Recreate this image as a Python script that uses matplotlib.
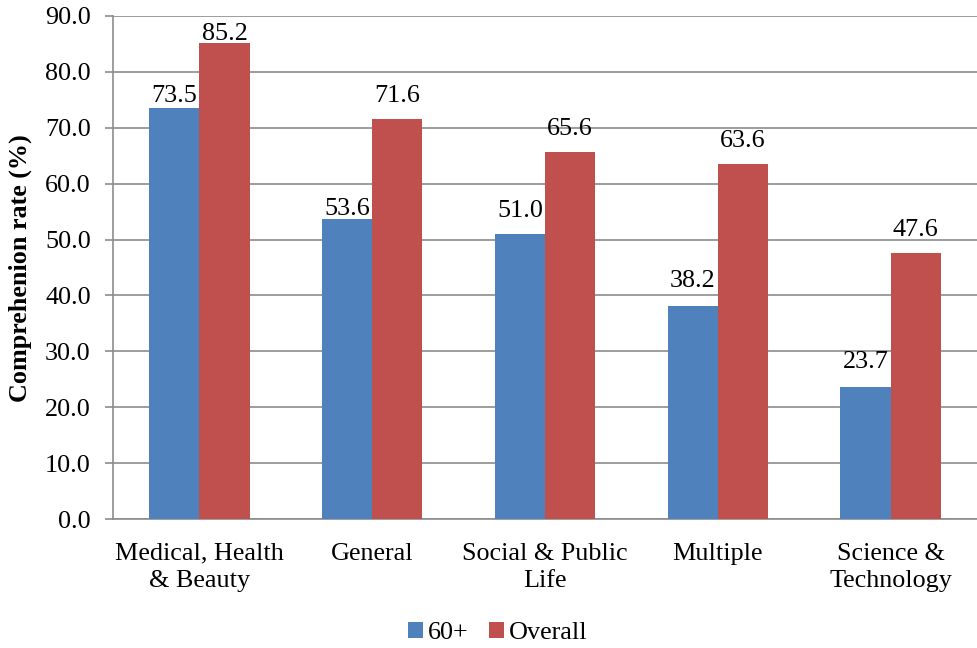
import matplotlib
matplotlib.use("Agg")
import matplotlib.pyplot as plt
import numpy as np

categories = ["Medical, Health\n& Beauty", "General", "Social & Public\nLife", "Multiple", "Science &\nTechnology"]
age_60_plus = [73.5, 53.6, 51.0, 38.2, 23.7]
overall = [85.2, 71.6, 65.6, 63.6, 47.6]

plt.rcParams["font.family"] = ["Liberation Serif", "DejaVu Serif"]
FS = 18.8

fig = plt.figure(figsize=(9.77, 6.48), dpi=100)
ax = fig.add_axes([113 / 977, 1 - 519 / 648, 1 - 113 / 977, (519 - 16) / 648])

x = np.arange(len(categories))
w = 0.29
blue = "#4F81BD"
red = "#C0504D"
b1 = ax.bar(x - w / 2, age_60_plus, w, color=blue, label="60+", zorder=3)
b2 = ax.bar(x + w / 2, overall, w, color=red, label="Overall", zorder=3)

# value labels sit above each bar; gap (in points) between bar top and text
gaps_blue = [4.3, 2.9, 12.2, 13.0, 13.0]
gaps_red = [2.2, 12.2, 12.2, 12.2, 12.2]
for bars, vals, gaps in ((b1, age_60_plus, gaps_blue), (b2, overall, gaps_red)):
    for bar, v, g in zip(bars, vals, gaps):
        ax.annotate(f"{v:.1f}", (bar.get_x() + bar.get_width() / 2, v),
                    xytext=(0, g), textcoords="offset points",
                    ha="center", va="baseline", fontsize=FS,
                    annotation_clip=False)

ax.set_xlim(-0.5, len(categories) - 0.5)
ax.set_ylim(0, 90)
ax.set_yticks(np.arange(0, 91, 10))
ax.set_yticklabels([f"{t:.1f}" for t in np.arange(0, 91, 10)], fontsize=FS)
ax.set_xticks(x)
ax.set_xticklabels(categories, fontsize=FS, linespacing=1.3)
ax.tick_params(axis="x", length=0, pad=17)
ax.tick_params(axis="y", length=6, width=1.2, color="#8C8C8C", pad=10)

ax.yaxis.grid(True, color="#8C8C8C", linewidth=1.2, zorder=0)
ax.set_axisbelow(True)
for s in ("top", "right"):
    ax.spines[s].set_visible(False)
for s in ("left", "bottom"):
    ax.spines[s].set_color("#8C8C8C")
    ax.spines[s].set_linewidth(1.2)

fig.text(20 / 977, 1 - 268 / 648, "Comprehenion rate (%)", rotation=90,
         ha="center", va="center", fontsize=FS, fontweight="bold")

fig.legend(handles=[b1, b2], labels=["60+", "Overall"], loc="center",
           bbox_to_anchor=(498 / 977, 1 - 633 / 648), ncol=2, frameon=False,
           fontsize=FS, handlelength=0.55, handleheight=0.55, handletextpad=0.2,
           columnspacing=0.8)

fig.savefig("out.png", dpi=100)
